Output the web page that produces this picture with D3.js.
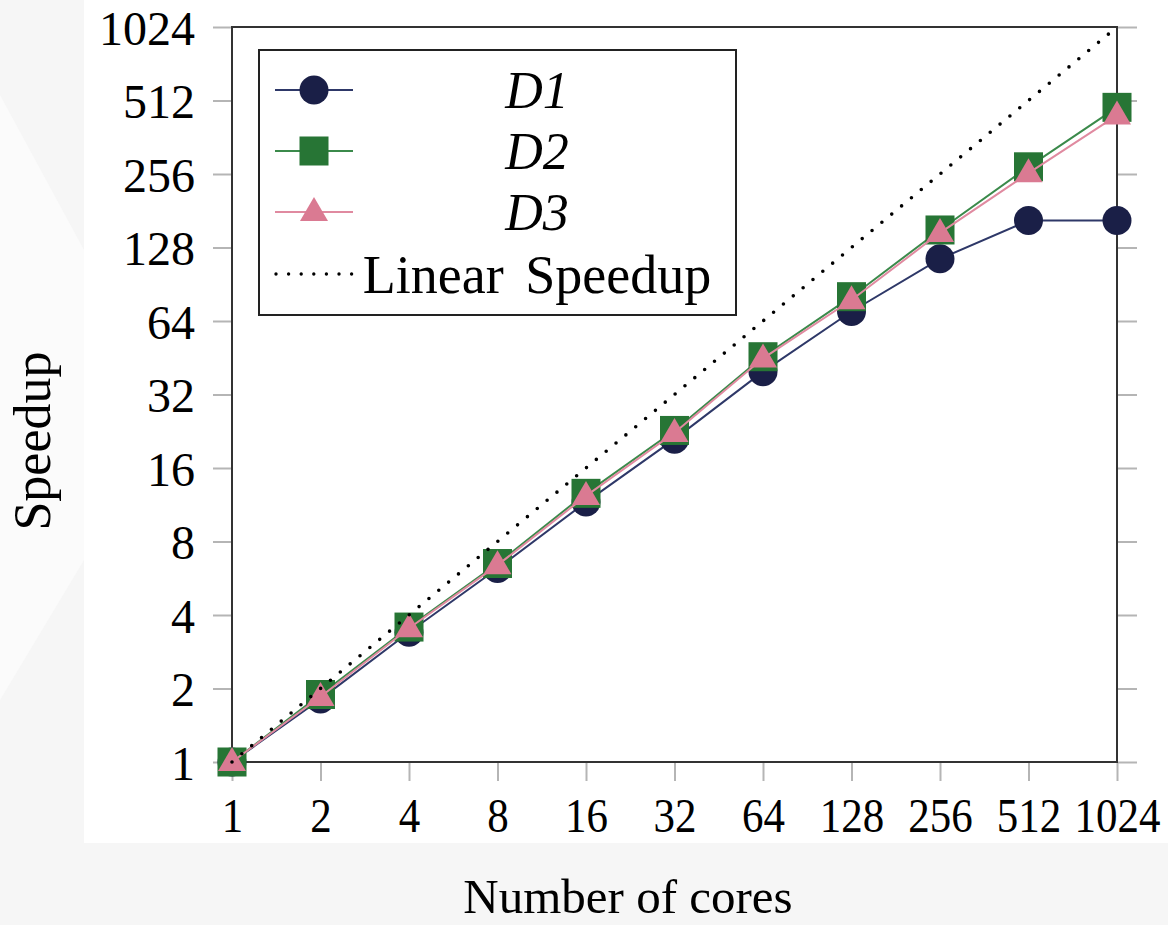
<!DOCTYPE html>
<html>
<head>
<meta charset="utf-8">
<script src="https://cdn.jsdelivr.net/npm/d3@7/dist/d3.min.js"></script>
<style>
  html, body { margin: 0; padding: 0; background: #f6f6f6; }
  svg { display: block; }
  text { font-family: "Liberation Serif", "Times New Roman", serif; fill: #000; }
</style>
</head>
<body>
<svg id="chart" width="1168" height="925"></svg>
<script>
// ---- data ----
const cores = [1, 2, 4, 8, 16, 32, 64, 128, 256, 512, 1024];
const d1 = [1, 1.81, 3.4, 6.2, 11.6, 21, 39.7, 70, 115, 165, 165];
const d2 = [1, 1.89, 3.57, 6.5, 12.6, 22.8, 45.7, 80.5, 151, 274, 480];
const d3v = [1, 1.85, 3.53, 6.4, 12.3, 22.3, 45, 78, 147, 258, 445];
const linear = [1, 2, 4, 8, 16, 32, 64, 128, 256, 512, 1024];
const xTicks = [1, 2, 4, 8, 16, 32, 64, 128, 256, 512, 1024];
const yTicks = [1, 2, 4, 8, 16, 32, 64, 128, 256, 512, 1024];
const seriesNames = ["D1", "D2", "D3"];
const linearName = "Linear Speedup";
const xTitle = "Number of cores";
const yTitle = "Speedup";

(function () {
const svg = d3.select("#chart");

// background
svg.append("rect").attr("x", 0).attr("y", 0).attr("width", 1168).attr("height", 925).attr("fill", "#f6f6f6");
svg.append("path").attr("d", "M0,95 L84,250 L84,560 L0,700 Z").attr("fill", "#fbfbfb");
svg.append("rect").attr("x", 84).attr("y", 0).attr("width", 1084).attr("height", 843).attr("fill", "#ffffff");

const pL = 232, pR = 1117, pT = 27, pB = 762;
const x = d3.scaleLog().base(2).domain([1, 1024]).range([pL, pR]);
const y = d3.scaleLog().base(2).domain([1, 1024]).range([pB, pT]);

// ticks
const tickColor = "#b5b5b5";
const yAxis = svg.append("g").attr("transform", `translate(${pL},0)`)
  .call(d3.axisLeft(y).tickValues(yTicks).tickSize(19).tickPadding(18).tickFormat(d => String(d)));
yAxis.select(".domain").remove();
yAxis.selectAll(".tick line").attr("stroke", tickColor).attr("stroke-width", 2);
yAxis.selectAll(".tick text").attr("font-family", "Liberation Serif").attr("font-size", 48)
  .attr("fill", "#000").attr("dy", "0.36em");

const yAxisR = svg.append("g").attr("transform", `translate(${pR},0)`)
  .call(d3.axisRight(y).tickValues(yTicks).tickSize(20).tickFormat(""));
yAxisR.select(".domain").remove();
yAxisR.selectAll(".tick line").attr("stroke", tickColor).attr("stroke-width", 2);

const xAxis = svg.append("g").attr("transform", `translate(0,${pB})`)
  .call(d3.axisBottom(x).tickValues(xTicks).tickSize(19).tickPadding(11).tickFormat(d => String(d)));
xAxis.select(".domain").remove();
xAxis.selectAll(".tick line").attr("stroke", tickColor).attr("stroke-width", 2);
xAxis.selectAll(".tick text").attr("font-family", "Liberation Serif").attr("font-size", 43).attr("fill", "#000")
  .attr("transform", "scale(1,1.15)");

// frame
svg.append("rect").attr("x", pL).attr("y", pT).attr("width", pR - pL).attr("height", pB - pT)
  .attr("fill", "none").attr("stroke", "#333").attr("stroke-width", 2);

// series
const series = [
  { name: seriesNames[0], values: d1, line: "#2e3868", fill: "#1a1f47", shape: "circle" },
  { name: seriesNames[1], values: d2, line: "#3b8a4b", fill: "#277535", shape: "square" },
  { name: seriesNames[2], values: d3v, line: "#e08aa0", fill: "#da7a92", shape: "triangle" }
];

const lineGen = d3.line().x((d, i) => x(cores[i])).y(d => y(d));

function drawMarker(g, shape, fill, cx, cy) {
  if (shape === "circle") {
    g.append("circle").attr("cx", cx).attr("cy", cy).attr("r", 14.5).attr("fill", fill);
  } else if (shape === "square") {
    g.append("rect").attr("x", cx - 14.5).attr("y", cy - 14.5).attr("width", 29).attr("height", 29).attr("fill", fill);
  } else {
    const h = 24, w = 28;
    g.append("path").attr("d", `M${cx},${cy - h * 0.62} L${cx + w / 2},${cy + h * 0.38} L${cx - w / 2},${cy + h * 0.38} Z`).attr("fill", fill);
  }
}

series.forEach(s => {
  const g = svg.append("g");
  g.append("path").attr("d", lineGen(s.values)).attr("fill", "none").attr("stroke", s.line).attr("stroke-width", 2);
  s.values.forEach((v, i) => drawMarker(g, s.shape, s.fill, x(cores[i]), y(v)));
});

// linear speedup
svg.append("path").attr("d", lineGen(linear)).attr("fill", "none").attr("stroke", "#000")
  .attr("stroke-width", 3.6).attr("stroke-linecap", "round").attr("stroke-dasharray", "0 12.8");

// legend
const lg = svg.append("g");
lg.append("rect").attr("x", 259).attr("y", 50).attr("width", 477).attr("height", 265)
  .attr("fill", "#fff").attr("stroke", "#222").attr("stroke-width", 2);
const rowY = [90, 151, 212, 274];
series.forEach((s, i) => {
  lg.append("line").attr("x1", 275).attr("x2", 353).attr("y1", rowY[i]).attr("y2", rowY[i])
    .attr("stroke", s.line).attr("stroke-width", 2);
  drawMarker(lg, s.shape, s.fill, 314, rowY[i]);
  lg.append("text").attr("x", 537).attr("y", rowY[i]).attr("dy", "0.35em").attr("text-anchor", "middle")
    .attr("font-size", 52).attr("font-style", "italic").text(s.name);
});
lg.append("line").attr("x1", 276).attr("x2", 352).attr("y1", rowY[3]).attr("y2", rowY[3])
  .attr("stroke", "#000").attr("stroke-width", 3.4).attr("stroke-linecap", "round").attr("stroke-dasharray", "0 12.6");
lg.append("text").attr("x", 537).attr("y", rowY[3]).attr("dy", "0.35em").attr("text-anchor", "middle")
  .attr("font-size", 54).attr("word-spacing", 8).text(linearName);

// axis titles
svg.append("text").attr("transform", "translate(50,441) rotate(-90)").attr("text-anchor", "middle")
  .attr("font-size", 52).text(yTitle);
svg.append("text").attr("x", 628).attr("y", 913).attr("text-anchor", "middle")
  .attr("font-size", 49).text(xTitle);
})();
</script>
</body>
</html>
